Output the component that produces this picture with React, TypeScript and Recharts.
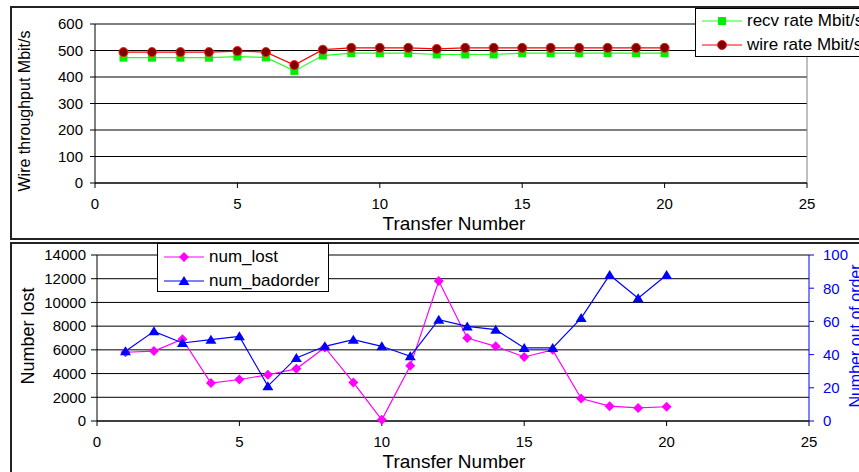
import React from "react"
import { LineChart, Line, XAxis, YAxis, CartesianGrid, ReferenceLine } from "recharts"

const transfers = [1, 2, 3, 4, 5, 6, 7, 8, 9, 10, 11, 12, 13, 14, 15, 16, 17, 18, 19, 20]
const recvRate = [473, 473, 473, 473, 477, 474, 423, 481, 490, 490, 490, 485, 485, 485, 490, 490, 490, 490, 490, 490]
const wireRate = [494, 494, 494, 494, 498, 494, 445, 503, 510, 510, 510, 506, 510, 510, 510, 510, 510, 510, 510, 510]
const numLost = [5800, 5900, 6900, 3200, 3500, 3900, 4400, 6200, 3250, 100, 4650, 11800, 7000, 6300, 5400, 6000, 1900, 1250, 1100, 1200]
const numBadorder = [42, 54, 47, 49, 51, 21, 38, 45, 49, 45, 39, 61, 57, 55, 44, 44, 62, 88, 74, 88]

const transferTicks = [0, 5, 10, 15, 20, 25]
const throughputTicks = [0, 100, 200, 300, 400, 500, 600]
const lostTicks = [0, 2000, 4000, 6000, 8000, 10000, 12000, 14000]
const badorderTicks = [0, 20, 40, 60, 80, 100]

const data = transfers.map((x, i) => ({
  x,
  recv: recvRate[i],
  wire: wireRate[i],
  lost: numLost[i],
  badorder: numBadorder[i],
}))

const FONT = "'Liberation Sans', Arial, sans-serif"

type Shape = "square" | "circle" | "diamond" | "triangle"

function Marker({ shape, cx, cy }: { shape: Shape; cx: number; cy: number }) {
  if (shape === "square") return <rect x={cx - 4} y={cy - 4} width={8} height={8} fill="#00ee00" />
  if (shape === "circle") return <circle cx={cx} cy={cy} r={4.5} fill="#800000" stroke="#ff1a1a" strokeWidth={1} />
  if (shape === "diamond")
    return <polygon points={`${cx},${cy - 5} ${cx + 5},${cy} ${cx},${cy + 5} ${cx - 5},${cy}`} fill="#ff00ff" />
  return <polygon points={`${cx},${cy - 5} ${cx + 5.5},${cy + 4} ${cx - 5.5},${cy + 4}`} fill="#0000ff" />
}

const dotOf = (shape: Shape) => (p: any) => <Marker key={`${shape}-${p.index}`} shape={shape} cx={p.cx} cy={p.cy} />

function LegendBox({ left, top, width, height, items }: {
  left: number; top: number; width: number; height: number
  items: { label: string; color: string; shape: Shape; y: number }[]
}) {
  return (
    <div style={{ position: "absolute", left, top, width, height, border: "1px solid #000", background: "#fff" }}>
      {items.map((it) => (
        <div key={it.label} style={{ position: "absolute", left: 0, top: it.y - 12, height: 24, display: "flex", alignItems: "center" }}>
          <svg width={50} height={24}>
            <line x1={6} x2={46} y1={12} y2={12} stroke={it.color} strokeWidth={1} />
            <Marker shape={it.shape} cx={26} cy={12} />
          </svg>
          <span style={{ fontSize: 17, marginLeft: 1, whiteSpace: "nowrap", color: "#000" }}>{it.label}</span>
        </div>
      ))}
    </div>
  )
}

function Title({ text, x, y, size, rotate, color = "#000" }: { text: string; x: number; y: number; size: number; rotate?: boolean; color?: string }) {
  return (
    <div
      style={{
        position: "absolute", left: x, top: y, fontSize: size, lineHeight: `${size}px`, color, whiteSpace: "nowrap",
        transform: rotate ? "translate(-50%, -50%) rotate(-90deg)" : "translate(-50%, 0)",
      }}
    >
      {text}
    </div>
  )
}

export default function App() {
  const tick = { fill: "#000", fontSize: 15, fontFamily: FONT }
  return (
    <div style={{ position: "absolute", left: 0, top: 0, width: 859, height: 472, overflow: "hidden", background: "#fff", fontFamily: FONT }}>
      {/* panel frames */}
      <div style={{ position: "absolute", left: 10, top: 6, width: 900, height: 230, border: "2px solid #222" }} />
      <div style={{ position: "absolute", left: 10, top: 242, width: 900, height: 300, border: "2px solid #222" }} />

      <div style={{ position: "absolute", left: 0, top: 0 }}>
        <LineChart width={859} height={240} data={data} margin={{ top: 24, right: 52, bottom: 0, left: 0 }}>
          <CartesianGrid vertical={false} stroke="#000" />
          <ReferenceLine y={600} stroke="#808080" />
          <ReferenceLine x={25} stroke="#808080" />
          <XAxis type="number" dataKey="x" domain={[0, 25]} ticks={transferTicks} height={57} stroke="#000" tickSize={5} tickMargin={10} tick={tick} />
          <YAxis domain={[0, 600]} ticks={throughputTicks} width={95} stroke="#000" tickSize={5} tickMargin={7} tick={tick} />
          <Line dataKey="recv" stroke="#22ff22" strokeWidth={1.2} dot={dotOf("square")} isAnimationActive={false} />
          <Line dataKey="wire" stroke="#ff0000" strokeWidth={1.2} dot={dotOf("circle")} isAnimationActive={false} />
        </LineChart>
      </div>

      <div style={{ position: "absolute", left: 0, top: 240 }}>
        <LineChart width={859} height={232} data={data} margin={{ top: 15, right: 0, bottom: 0, left: 0 }}>
          <CartesianGrid vertical={false} stroke="#000" yAxisId="left" />
          <ReferenceLine y={14000} yAxisId="left" stroke="#808080" />
          <XAxis type="number" dataKey="x" domain={[0, 25]} ticks={transferTicks} height={51} stroke="#000" tickSize={5} tickMargin={10} tick={tick} />
          <YAxis yAxisId="left" domain={[0, 14000]} ticks={lostTicks} width={97} stroke="#000" tickSize={6} tickMargin={5} tick={tick} />
          <YAxis yAxisId="right" orientation="right" domain={[0, 100]} ticks={badorderTicks} width={50} stroke="#0000ff" tickSize={5} tickMargin={9} tick={{ ...tick, fill: "#0000ff" }} />
          <Line yAxisId="left" dataKey="lost" stroke="#ff00ff" strokeWidth={1.2} dot={dotOf("diamond")} isAnimationActive={false} />
          <Line yAxisId="right" dataKey="badorder" stroke="#0000ff" strokeWidth={1.2} dot={dotOf("triangle")} isAnimationActive={false} />
        </LineChart>
      </div>

      <Title text="Wire throughput Mbit/s" x={25} y={111} size={16} rotate />
      <Title text="Transfer Number" x={454} y={214} size={19} />
      <Title text="Number lost" x={28} y={336} size={18} rotate />
      <Title text="Transfer Number" x={454} y={452} size={19} />
      <Title text="Number out of order" x={856} y={336} size={16} rotate color="#0000ff" />

      <LegendBox
        left={695} top={8} width={200} height={47}
        items={[
          { label: "recv rate Mbit/s", color: "#22ff22", shape: "square", y: 12 },
          { label: "wire rate Mbit/s", color: "#ff0000", shape: "circle", y: 36 },
        ]}
      />
      <LegendBox
        left={157} top={243} width={170} height={47}
        items={[
          { label: "num_lost", color: "#ff00ff", shape: "diamond", y: 13 },
          { label: "num_badorder", color: "#0000ff", shape: "triangle", y: 37 },
        ]}
      />
    </div>
  )
}
